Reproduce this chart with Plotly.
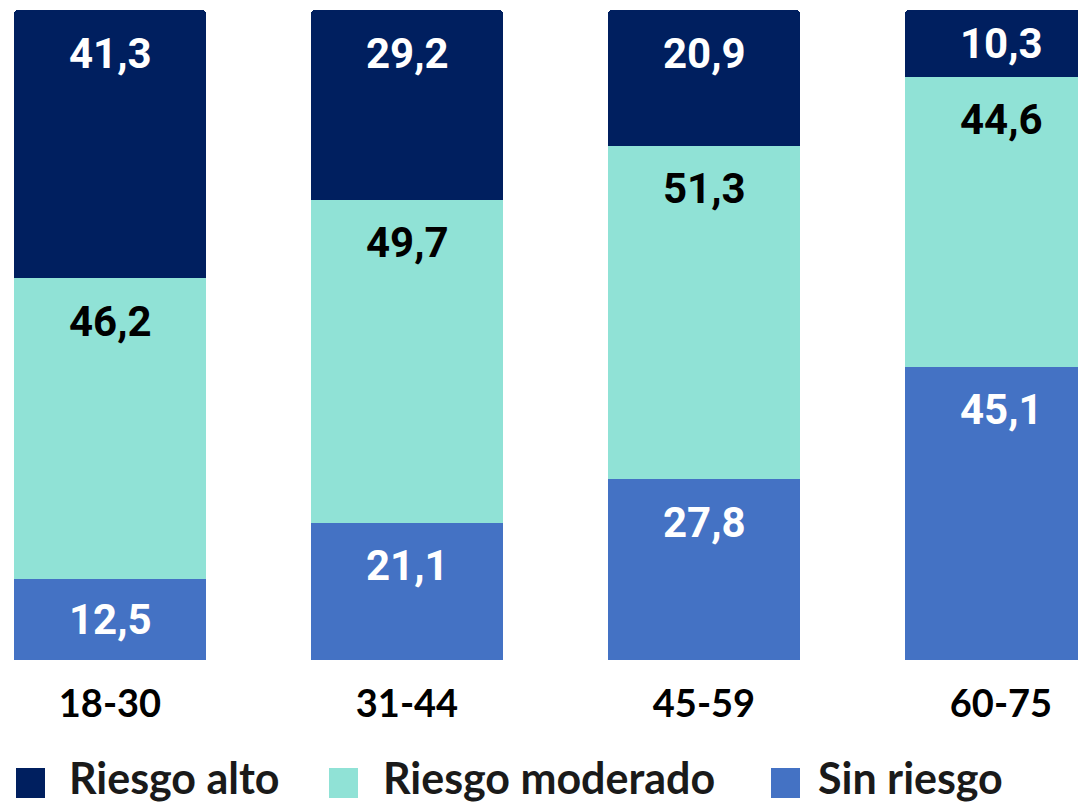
import plotly.graph_objects as go

categories = ["18-30", "31-44", "45-59", "60-75"]
sin_riesgo = [12.5, 21.1, 27.8, 45.1]
riesgo_moderado = [46.2, 49.7, 51.3, 44.6]
riesgo_alto = [41.3, 29.2, 20.9, 10.3]
series_names = ["Sin riesgo", "Riesgo moderado", "Riesgo alto"]

colors = {"Sin riesgo": "#4472C4", "Riesgo moderado": "#90E2D6", "Riesgo alto": "#001F5F"}
label_colors = {"Sin riesgo": "white", "Riesgo moderado": "black", "Riesgo alto": "white"}

# the page body adds an 8px offset, so the figure is a bit smaller than the window
OFF = 8
W, H = 1086 - OFF, 803 - OFF
top, bottom = 10 - OFF, 143
plot_h = H - top - bottom
px_per_unit = plot_h / 100


def to_paper(x_win, y_win):
    return (x_win - OFF) / W, (H - bottom - (y_win - OFF)) / plot_h


fig = go.Figure()
series = {"Sin riesgo": sin_riesgo, "Riesgo moderado": riesgo_moderado, "Riesgo alto": riesgo_alto}
for name in series_names:
    fig.add_trace(go.Bar(x=categories, y=series[name], name=name, width=0.646,
                         marker=dict(color=colors[name], line_width=0, cornerradius=4),
                         showlegend=False, hoverinfo="skip"))

# data labels, near the top of each segment
base = [0] * len(categories)
for name in series_names:
    for i, cat in enumerate(categories):
        v = series[name][i]
        base[i] = round(base[i] + v, 6)  # avoid 100.00000001 falling off the axis
        fig.add_annotation(x=cat, y=min(base[i], 100), text=f"{v:.1f}".replace(".", ","),
                           showarrow=False, yanchor="middle",
                           yshift=-min(43, v * px_per_unit / 2),
                           font=dict(family="Roboto", size=42, color=label_colors[name], weight="bold"))

# legend drawn by hand so the squares can be large
legend_items = [("Riesgo alto", 16, 68), ("Riesgo moderado", 329, 382), ("Sin riesgo", 771, 817)]
for name, sx, tx in legend_items:
    x0, y0 = to_paper(sx, 798)
    x1, y1 = to_paper(sx + 29, 768)
    fig.add_shape(type="rect", xref="paper", yref="paper", x0=x0, x1=x1, y0=y0, y1=y1,
                  fillcolor=colors[name], line_width=0)
    tx_p, ty_p = to_paper(tx - 1, 777)
    fig.add_annotation(xref="paper", yref="paper", x=tx_p, y=ty_p,
                       xanchor="left", yanchor="middle", showarrow=False, text=name,
                       font=dict(family="Lato", size=43, color="#1a1a1a", weight="bold"))

fig.update_layout(
    width=W, height=H, barmode="stack",
    margin=dict(l=0, r=0, t=top, b=bottom),
    plot_bgcolor="white", paper_bgcolor="white",
    xaxis=dict(range=[-102 / 297, -102 / 297 + W / 297], showgrid=False, zeroline=False,
               showline=False, ticks="", ticklabelstandoff=18,
               tickfont=dict(family="Lato", size=38, color="black", weight="bold")),
    yaxis=dict(range=[0, 100], visible=False),
)

fig.write_html("out.html")
